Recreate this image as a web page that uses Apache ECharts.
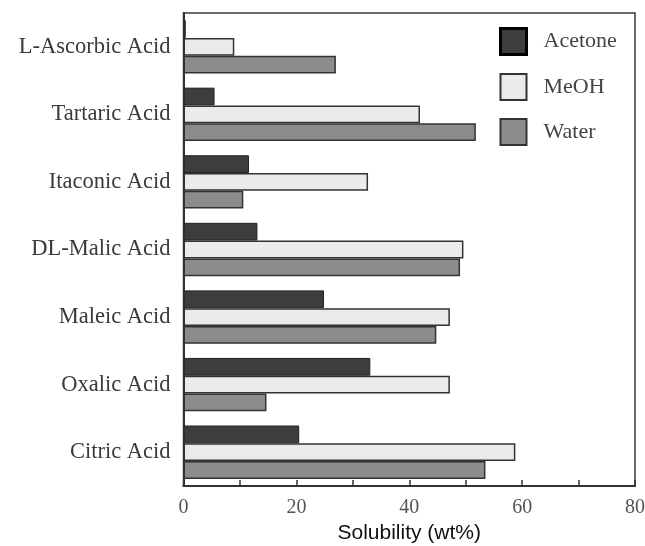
<!DOCTYPE html>
<html><head><meta charset="utf-8">
<script src="https://cdn.jsdelivr.net/npm/echarts@6/dist/echarts.min.js"></script>
<style>html,body{margin:0;padding:0;background:#fff;}#c{width:645px;height:546px;}</style>
</head><body><div id="c"></div>
<script>
const categories = ['L-Ascorbic Acid','Tartaric Acid','Itaconic Acid','DL-Malic Acid','Maleic Acid','Oxalic Acid','Citric Acid'];
const acetone = [0.4, 5.5, 11.6, 13.1, 24.9, 33.1, 20.5];
const meoh = [9.0, 41.9, 32.7, 49.6, 47.2, 47.2, 58.8];
const water = [27.0, 51.8, 10.6, 49.0, 44.8, 14.7, 53.5];
const xTickLabels = ['0','20','40','60','80'];

const chart = echarts.init(document.getElementById('c'));
const serif = '"Liberation Serif", "DejaVu Serif", serif';
chart.setOption({
  animation: false,
  backgroundColor: '#fff',
  grid: {left: 183.5, right: 10, top: 13, bottom: 60, show: true, borderColor: '#3a3a3a', borderWidth: 1.5,
         containLabel: false, outerBoundsMode: 'none'},
  legend: {
    left: 499, top: 27, orient: 'vertical', itemWidth: 26, itemHeight: 26, itemGap: 17, padding: 0,
    icon: 'rect',
    textStyle: {fontFamily: serif, fontSize: 22, color: '#444', padding: [0, 0, 0, 12]},
    data: [
      {name: 'Acetone', itemStyle: {borderColor: '#000', borderWidth: 3}},
      {name: 'MeOH'}, {name: 'Water'}
    ]
  },
  xAxis: {
    type: 'value', min: 0, max: 80, interval: 10,
    name: 'Solubility (wt%)', nameLocation: 'middle', nameGap: 35,
    nameTextStyle: {fontFamily: '"Liberation Sans", Arial, sans-serif', fontSize: 21, color: '#111', fontWeight: 500},
    axisLine: {show: true, lineStyle: {color: '#333', width: 2}},
    axisTick: {show: true, inside: true, length: 6, lineStyle: {color: '#333', width: 1.5}},
    axisLabel: {fontFamily: serif, fontSize: 20, color: '#555', margin: 12,
      formatter: v => xTickLabels.indexOf(String(v)) >= 0 ? String(v) : ''},
    splitLine: {show: false}
  },
  yAxis: {
    type: 'category', data: categories, inverse: true,
    axisLine: {show: true, lineStyle: {color: '#333', width: 2}},
    axisTick: {show: false},
    axisLabel: {fontFamily: serif, fontSize: 22.5, color: '#3a3a3a', margin: 13}
  },
  series: [
    {name: 'Acetone', type: 'bar', data: acetone, barGap: '0%', barCategoryGap: '21%',
     itemStyle: {color: '#3d3d3d', borderColor: '#222', borderWidth: 1}},
    {name: 'MeOH', type: 'bar', data: meoh, barGap: '0%', barCategoryGap: '21%',
     itemStyle: {color: '#ebebeb', borderColor: '#333', borderWidth: 1.5}},
    {name: 'Water', type: 'bar', data: water, barGap: '0%', barCategoryGap: '21%',
     itemStyle: {color: '#8c8c8c', borderColor: '#333', borderWidth: 1.5}}
  ]
});
</script></body></html>
